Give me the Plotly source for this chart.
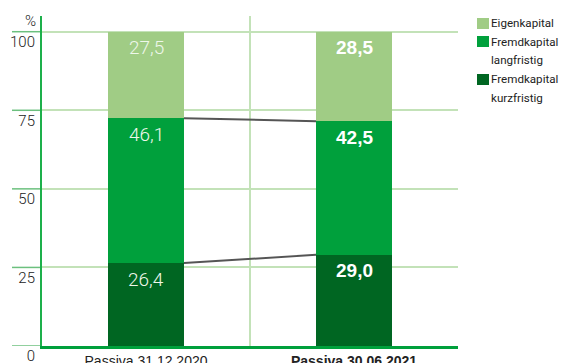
import plotly.graph_objects as go

# Balance-sheet liabilities structure (in % of total)
categories = ["Passiva 31.12.2020", "Passiva 30.06.2021"]
series_names = ["Fremdkapital kurzfristig", "Fremdkapital langfristig", "Eigenkapital"]
kurzfristig = [26.4, 29.0]
langfristig = [46.1, 42.5]
eigenkapital = [27.5, 28.5]
y_ticks = [0, 25, 50, 75, 100]

series_values = [kurzfristig, langfristig, eigenkapital]
colors = ["#006622", "#00a03c", "#a0cc85"]
bar_width = 0.365

NUM_FONT = "Roboto, Liberation Sans, Arial, sans-serif"
BOLD_FONT = "Liberation Sans, Arial, sans-serif"
LEGEND_FONT = "Roboto, Liberation Sans, Arial, sans-serif"
XLABEL_FONT = "Liberation Sans, Arial, sans-serif"

GRID = "#c3e2b8"
TICK = "#6cc07e"

fig = go.Figure()
for name, vals, col in zip(series_names, series_values, colors):
    fig.add_trace(go.Bar(
        x=categories, y=vals, name=name, marker=dict(color=col, line=dict(width=0)),
        width=bar_width, showlegend=False, hoverinfo="skip",
    ))

annotations = []
shapes = []

# value labels near the top of each segment
def fmt(v):
    return f"{v:.1f}".replace(".", ",")

for ci, cat in enumerate(categories):
    base = 0.0
    for vals in series_values:
        top = base + vals[ci]
        if ci == 0:
            font = dict(family=NUM_FONT, size=19, color="#eef7ea", weight=300)
            text = fmt(vals[ci])
        else:
            font = dict(family=BOLD_FONT, size=19, color="#ffffff")
            text = "<b>" + fmt(vals[ci]) + "</b>"
        annotations.append(dict(
            x=cat, y=top, xref="x", yref="y", text=text, showarrow=False,
            xanchor="center", yanchor="middle", yshift=-16, font=font,
        ))
        base = top

# connector lines between the segment boundaries of both bars
cum0 = 0.0
cum1 = 0.0
for vals in series_values[:-1]:
    cum0 += vals[0]
    cum1 += vals[1]
    shapes.append(dict(
        type="line", xref="x", yref="y",
        x0=0 + bar_width / 2, x1=1 - bar_width / 2, y0=cum0, y1=cum1,
        line=dict(color="#555555", width=2), layer="above",
    ))

# vertical separator between the two categories
shapes.append(dict(
    type="line", xref="x", yref="paper", x0=0.5, x1=0.5, y0=0, y1=1,
    line=dict(color=GRID, width=2), layer="below",
))

# tick lines extending left of the y axis
for t in y_ticks:
    shapes.append(dict(
        type="line", xref="paper", yref="y", xsizemode="pixel", xanchor=0,
        x0=-30, x1=0, y0=t, y1=t,
        line=dict(color=TICK, width=1.5), layer="below",
    ))

# unit label above the y axis
annotations.append(dict(
    x=0, y=100, xref="paper", yref="y", text="%", showarrow=False,
    xanchor="right", yanchor="bottom", xshift=-4, yshift=0,
    font=dict(family=NUM_FONT, size=15, color="#222222", weight=300),
))

# legend (top to bottom: Eigenkapital, langfristig, kurzfristig)
legend_items = list(zip(series_names, colors))[::-1]
sq_tops = [18, 36, 74]
text_tops = [23, 41.5, 79]
line_gap = 18.5
for (name, col), sq_top, t0 in zip(legend_items, sq_tops, text_tops):
    shapes.append(dict(
        type="rect", xref="paper", yref="paper",
        xsizemode="pixel", ysizemode="pixel", xanchor=1, yanchor=1,
        x0=19, x1=31, y0=-(sq_top - 16), y1=-(sq_top - 16 + 11),
        fillcolor=col, line=dict(width=0),
    ))
    words = name.split(" ")
    for k, w in enumerate(words):
        annotations.append(dict(
            x=1, y=1, xref="paper", yref="paper", text=w, showarrow=False,
            xanchor="left", yanchor="middle", xshift=31,
            yshift=-(t0 + k * line_gap - 16),
            font=dict(family=LEGEND_FONT, size=11.6, color="#222222"),
        ))

fig.update_layout(
    width=561, height=363,
    margin=dict(l=42, r=103, t=16, b=17, pad=0, autoexpand=False),
    barmode="stack", bargap=0,
    plot_bgcolor="#ffffff", paper_bgcolor="#ffffff",
    annotations=annotations, shapes=shapes,
    xaxis=dict(
        type="category", range=[-0.5, 1.5], showgrid=False, zeroline=False,
        showline=True, linecolor="#00a03c", linewidth=3, ticks="",
        tickvals=categories,
        ticktext=[categories[0], "<b>" + categories[1] + "</b>"],
        tickfont=dict(family=XLABEL_FONT, size=14, color="#222222"),
        automargin=False,
    ),
    yaxis=dict(
        range=[0, 105], tickvals=y_ticks, ticktext=[str(t) for t in y_ticks],
        showgrid=True, gridcolor=GRID, gridwidth=1.5, zeroline=False,
        showline=True, linecolor="#1db04b", linewidth=2, ticks="",
        tickfont=dict(family=NUM_FONT, size=15, color="#222222", weight=300),
        ticklabelstandoff=2, ticklabelshift=10, automargin=False,
        ticklabeloverflow="allow",
    ),
)

fig.write_html("out.html")
